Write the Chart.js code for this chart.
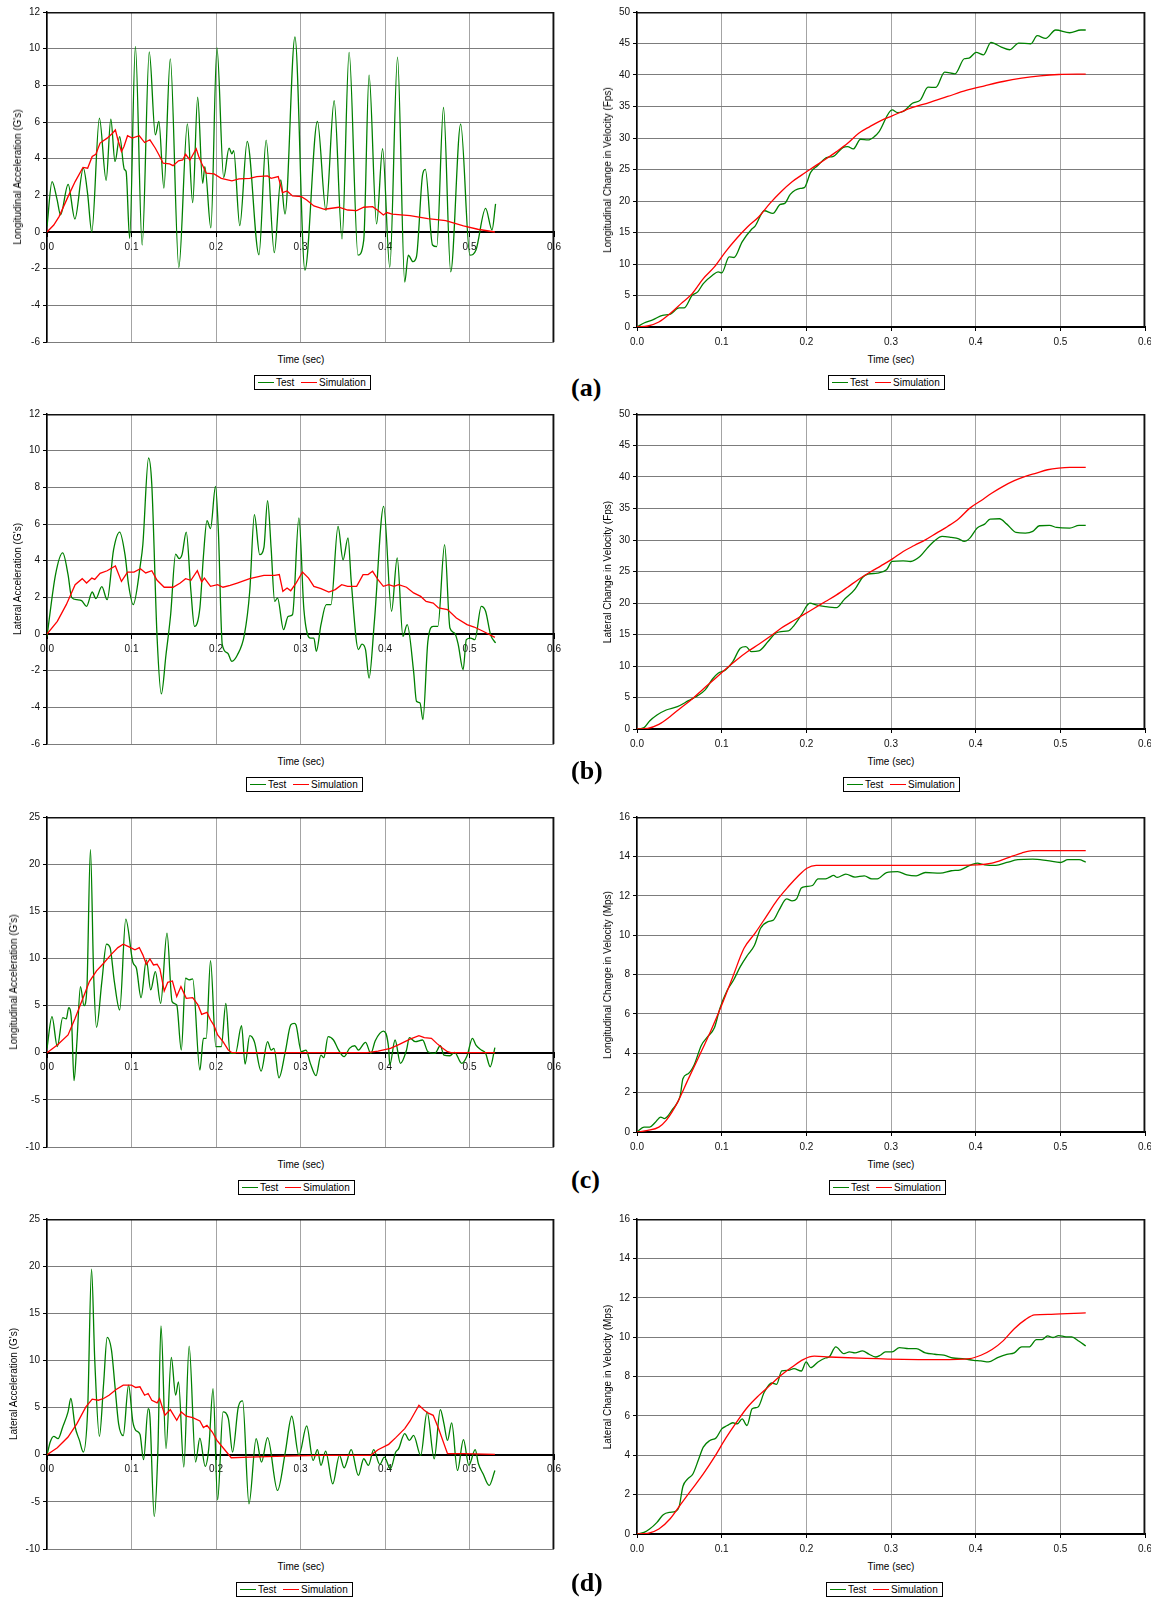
<!DOCTYPE html>
<html>
<head>
<meta charset="utf-8">
<script src="https://cdn.jsdelivr.net/npm/chart.js@4/dist/chart.umd.min.js"></script>
<style>
html,body{margin:0;padding:0;background:#fff;}
body{position:relative;width:1151px;height:1600px;overflow:hidden;font-family:'Liberation Sans',Arial,sans-serif;color:#000;}
canvas{position:absolute;}
.t{position:absolute;font-size:10px;line-height:12px;white-space:nowrap;}
.yt{transform:translate(-50%,-50%) rotate(-90deg);}
.xt{transform:translate(-50%,-50%);}
.lg{position:absolute;width:115px;height:13px;border:1px solid #000;background:#fff;}
.ln{position:absolute;top:6px;width:16px;height:0;border-top:1.4px solid;}
.lt{position:absolute;top:0;font-size:10px;line-height:13px;white-space:nowrap;}
.sub{position:absolute;font-family:'Liberation Serif','Times New Roman',serif;font-weight:bold;font-size:26px;line-height:28px;transform:translateY(-50%);}
</style>
</head>
<body>
<script>
// ---------- tick labels ----------
const timeTicks = [0, 0.1, 0.2, 0.3, 0.4, 0.5, 0.6];
const accTicksAB = [-6, -4, -2, 0, 2, 4, 6, 8, 10, 12];
const accTicksCD = [-10, -5, 0, 5, 10, 15, 20, 25];
const velTicksFps = [0, 5, 10, 15, 20, 25, 30, 35, 40, 45, 50];
const velTicksMps = [0, 2, 4, 6, 8, 10, 12, 14, 16];
const seriesNames = ['Test', 'Simulation'];
const panelLetters = ['(a)', '(b)', '(c)', '(d)'];

// ---------- (a) longitudinal acceleration, G's [time s, value] ----------
const aAccTest = [[0,0.3],[0.006,2.75],[0.012,1.75],[0.016,0.93],[0.025,2.6],[0.033,0.71],[0.043,3.48],[0.048,2.11],[0.053,0],[0.062,6.21],[0.070,2.82],[0.0755,6.16],[0.0805,3.84],[0.086,5.2],[0.0915,3.42],[0.0936,3.3],[0.0978,-0.35],[0.1046,10.13],[0.1126,-0.71],[0.121,9.82],[0.1282,5.3],[0.1324,6.03],[0.1383,2.39],[0.1459,9.44],[0.156,-1.93],[0.1661,5.9],[0.1724,1.6],[0.1783,7.36],[0.1842,2.66],[0.1868,3.57],[0.1939,0.22],[0.2011,10.04],[0.2091,2.97],[0.2154,4.57],[0.2188,4.26],[0.2209,4.44],[0.2281,0.35],[0.2369,4.94],[0.2508,-1.24],[0.2593,5.01],[0.269,-1.13],[0.2766,2.84],[0.2816,0.98],[0.2934,10.64],[0.3052,-2.08],[0.32,6.03],[0.3301,1.17],[0.3398,7.16],[0.3491,-0.38],[0.3575,9.8],[0.368,-1.26],[0.3748,-0.44],[0.3811,8.56],[0.39,0.44],[0.3971,4.54],[0.4056,-1.93],[0.4148,9.54],[0.4233,-2.73],[0.4275,-1.26],[0.433,-1.62],[0.4372,-1.35],[0.4444,3.11],[0.4477,3.42],[0.4562,-0.71],[0.4612,-0.8],[0.4692,6.79],[0.4777,-2.17],[0.4895,5.88],[0.5004,-1.26],[0.5076,-0.98],[0.519,1.29],[0.5266,0.11],[0.5308,1.53]];
const aAccSim = [[0,0],[0.008,0.38],[0.0143,0.84],[0.0249,1.93],[0.0333,2.75],[0.0426,3.52],[0.0481,3.48],[0.0535,4.12],[0.0578,4.24],[0.0628,4.85],[0.0712,5.12],[0.0776,5.39],[0.0809,5.57],[0.0839,5.03],[0.0881,4.39],[0.0911,4.66],[0.0953,5.25],[0.1008,5.12],[0.1092,5.25],[0.1155,4.88],[0.1218,5.03],[0.1282,4.57],[0.1324,4.21],[0.1374,3.75],[0.145,3.72],[0.1492,3.62],[0.1556,3.88],[0.1606,3.93],[0.164,4.24],[0.1691,3.93],[0.1766,4.54],[0.1796,4.12],[0.183,3.75],[0.1884,3.21],[0.1977,3.17],[0.2062,2.93],[0.2188,2.79],[0.2272,2.9],[0.2399,2.93],[0.2483,3.02],[0.261,3.06],[0.2652,2.93],[0.2736,3.02],[0.2787,2.15],[0.2841,2.24],[0.2905,1.97],[0.301,1.93],[0.3073,1.75],[0.3158,1.42],[0.3284,1.24],[0.3453,1.35],[0.3558,1.2],[0.3664,1.17],[0.3748,1.35],[0.3853,1.38],[0.3917,1.17],[0.398,0.93],[0.4022,1.06],[0.4085,0.97],[0.4296,0.89],[0.4507,0.73],[0.4718,0.62],[0.4928,0.33],[0.5097,0.15],[0.53,0]];
// ---------- (a) longitudinal change in velocity, Fps ----------
const aVelTest = [[0,0],[0.0083,0.64],[0.0192,1.17],[0.0302,1.86],[0.0389,2.01],[0.0498,3.02],[0.0555,3.02],[0.0652,5.04],[0.0717,5.57],[0.0783,6.89],[0.0892,8.22],[0.0958,8.75],[0.1001,8.59],[0.1089,11.13],[0.1146,11.03],[0.1242,13.52],[0.1351,15.48],[0.1395,16.01],[0.1504,18.45],[0.1605,18.03],[0.1692,19.46],[0.1745,19.62],[0.181,21.05],[0.1928,22.0],[0.1976,22.11],[0.2051,24.55],[0.2129,25.56],[0.2247,26.94],[0.2313,27.04],[0.2431,28.47],[0.2488,28.63],[0.2554,28.26],[0.2641,29.8],[0.2728,29.69],[0.2803,30.22],[0.286,31.02],[0.3013,34.46],[0.3078,34.04],[0.3144,34.2],[0.3253,35.52],[0.3349,36.06],[0.3437,38.07],[0.3529,38.02],[0.3634,40.46],[0.3756,40.19],[0.3865,42.58],[0.3922,42.68],[0.4005,43.58],[0.4093,43.21],[0.418,45.18],[0.4303,44.43],[0.4403,44.01],[0.4508,45.07],[0.4652,44.96],[0.4727,46.24],[0.4827,45.81],[0.4945,47.14],[0.5111,46.71],[0.5243,47.14],[0.53,47.14]];
const aVelSim = [[0,0],[0.0127,0.16],[0.0258,0.8],[0.0389,2.12],[0.052,3.71],[0.0652,5.3],[0.0783,7.69],[0.0914,9.54],[0.1045,11.93],[0.1176,14.05],[0.1307,15.91],[0.1439,17.5],[0.157,19.62],[0.1701,21.47],[0.1832,23.06],[0.1963,24.28],[0.2094,25.45],[0.2226,26.62],[0.2357,27.84],[0.2488,29.16],[0.2619,30.75],[0.275,31.81],[0.2881,32.77],[0.3013,33.51],[0.3231,34.73],[0.345,35.63],[0.3669,36.59],[0.3887,37.54],[0.4106,38.28],[0.4324,38.97],[0.4543,39.5],[0.4762,39.87],[0.498,40.08],[0.53,40.14]];

// ---------- (b) lateral acceleration, G's ----------
const bAccTest = [[0,-0.13],[0.0101,3.24],[0.0186,4.42],[0.0249,3.24],[0.0291,2.0],[0.0354,1.87],[0.0409,1.82],[0.0468,1.51],[0.0535,2.29],[0.0578,1.93],[0.0649,2.58],[0.0712,1.87],[0.0788,4.6],[0.086,5.56],[0.0923,4.33],[0.0965,2.69],[0.102,1.6],[0.1105,3.78],[0.1134,4.87],[0.1202,9.6],[0.124,8.15],[0.1303,-0.22],[0.1353,-3.27],[0.1408,-1.13],[0.1463,1.05],[0.1522,4.36],[0.1564,4.11],[0.1598,4.33],[0.1648,5.56],[0.1703,2.33],[0.1745,0.42],[0.1809,1.42],[0.1851,4.24],[0.1893,6.18],[0.1935,5.75],[0.1994,8.05],[0.2028,5.6],[0.2074,-0.58],[0.2137,-1.04],[0.2188,-1.49],[0.2251,-1.16],[0.2336,-0.04],[0.2399,2.33],[0.2454,6.51],[0.2517,4.33],[0.2567,4.73],[0.261,7.27],[0.2652,4.69],[0.2694,1.78],[0.2728,1.96],[0.2799,0.24],[0.2854,0.96],[0.2905,1.05],[0.2981,6.33],[0.304,1.33],[0.3116,-0.22],[0.3158,-0.22],[0.3187,-0.95],[0.3242,0.51],[0.3305,1.6],[0.336,1.6],[0.3444,5.87],[0.3503,4.05],[0.3562,5.24],[0.36,2.87],[0.3685,-0.85],[0.3727,-0.55],[0.3769,-0.85],[0.3811,-2.4],[0.3874,0.69],[0.3984,6.96],[0.4077,1.24],[0.4144,4.15],[0.4212,-0.13],[0.4262,0.51],[0.4338,-2.04],[0.4372,-3.67],[0.4414,-3.76],[0.4448,-4.67],[0.4507,-0.4],[0.457,0.42],[0.4625,0.42],[0.4705,4.87],[0.4768,0.33],[0.4823,0.05],[0.4865,-0.55],[0.4924,-1.95],[0.4962,-0.31],[0.5013,-0.22],[0.5063,-0.31],[0.5139,1.51],[0.519,1.24],[0.5249,-0.04],[0.5308,-0.49]];
const bAccSim = [[0,0],[0.0122,0.69],[0.0228,1.6],[0.0333,2.69],[0.0417,3.02],[0.0468,2.78],[0.0531,3.05],[0.0565,2.98],[0.0628,3.31],[0.0712,3.45],[0.0809,3.71],[0.0881,2.87],[0.0953,3.38],[0.1029,3.38],[0.1105,3.56],[0.1168,3.33],[0.124,3.45],[0.1303,2.93],[0.1387,2.55],[0.1492,2.55],[0.1577,2.78],[0.164,3.02],[0.1703,2.93],[0.1779,3.45],[0.183,2.84],[0.1863,3.05],[0.1935,2.6],[0.2019,2.69],[0.2083,2.55],[0.2167,2.65],[0.2251,2.78],[0.2399,3.02],[0.2567,3.2],[0.2694,3.2],[0.2749,3.24],[0.2791,2.33],[0.2841,2.51],[0.2884,2.36],[0.2947,2.78],[0.3023,3.38],[0.3095,3.05],[0.3158,2.6],[0.3242,2.47],[0.3335,2.29],[0.3411,2.42],[0.3487,2.69],[0.3558,2.6],[0.3664,2.6],[0.374,3.24],[0.3799,3.24],[0.3853,3.42],[0.3917,2.96],[0.398,2.6],[0.4043,2.69],[0.4106,2.6],[0.4161,2.69],[0.4254,2.55],[0.4338,2.24],[0.4422,2.05],[0.4486,1.78],[0.457,1.69],[0.4633,1.42],[0.4739,1.33],[0.4844,0.87],[0.497,0.51],[0.5055,0.38],[0.516,0.15],[0.53,-0.18]];
// ---------- (b) lateral change in velocity, Fps ----------
const bVelTest = [[0,0],[0.0083,0.21],[0.0149,1.27],[0.0236,2.22],[0.0345,3.02],[0.0477,3.55],[0.0608,4.5],[0.0717,5.3],[0.0805,6.2],[0.0892,7.94],[0.0958,8.85],[0.1045,9.38],[0.1132,10.7],[0.122,12.82],[0.1286,13.08],[0.1351,12.29],[0.1439,12.39],[0.1548,13.88],[0.1635,15.2],[0.1701,15.47],[0.1788,15.57],[0.1854,16.42],[0.1941,18.11],[0.2042,19.97],[0.2116,19.7],[0.2226,19.44],[0.2357,19.28],[0.2444,20.5],[0.2575,22.19],[0.2663,24.05],[0.2728,24.58],[0.2838,24.74],[0.2947,25.27],[0.3013,26.59],[0.3144,26.69],[0.3231,26.59],[0.3341,27.38],[0.3428,28.71],[0.3516,29.87],[0.3603,30.56],[0.3712,30.4],[0.38,30.19],[0.3865,29.77],[0.3931,30.3],[0.4018,31.89],[0.4106,32.52],[0.4171,33.32],[0.4281,33.37],[0.4368,32.52],[0.4477,31.2],[0.4587,31.09],[0.4674,31.36],[0.4753,32.26],[0.4871,32.31],[0.4958,31.99],[0.5111,31.89],[0.5221,32.31],[0.53,32.31]];
const bVelSim = [[0,0],[0.0127,0.11],[0.0258,0.74],[0.0389,1.96],[0.052,3.39],[0.0652,4.77],[0.0783,6.36],[0.0914,7.89],[0.1045,9.48],[0.1176,10.96],[0.1307,12.29],[0.1439,13.45],[0.157,14.67],[0.1701,16.0],[0.1832,17.06],[0.1963,18.11],[0.2094,19.17],[0.2226,20.23],[0.2357,21.29],[0.2488,22.51],[0.2619,23.78],[0.275,24.89],[0.2881,25.9],[0.3013,26.96],[0.3144,28.18],[0.3275,29.13],[0.3406,30.03],[0.3537,31.09],[0.3669,32.15],[0.38,33.37],[0.3931,35.06],[0.4062,36.23],[0.4193,37.45],[0.4324,38.51],[0.4456,39.41],[0.4587,40.1],[0.4718,40.62],[0.4849,41.15],[0.498,41.42],[0.5111,41.53],[0.53,41.53]];

// ---------- (c) longitudinal acceleration, G's ----------
const cAccTest = [[0,0.46],[0.0059,3.82],[0.0122,0.64],[0.0186,3.72],[0.0228,3.58],[0.0257,4.78],[0.0291,3.29],[0.032,-2.97],[0.0354,1.17],[0.0396,7.01],[0.0438,4.99],[0.0472,6.83],[0.0514,21.53],[0.0552,8.25],[0.0586,2.69],[0.0649,7.54],[0.0704,11.51],[0.0746,11.15],[0.0797,7.54],[0.086,4.53],[0.0932,14.16],[0.1016,9.6],[0.1058,8.96],[0.1113,5.84],[0.1176,9.84],[0.1227,6.66],[0.1282,8.6],[0.1345,5.24],[0.142,12.68],[0.148,5.42],[0.1535,5.06],[0.1589,0.28],[0.164,7.9],[0.1682,7.72],[0.1724,7.83],[0.1809,-1.84],[0.1851,1.52],[0.1884,1.52],[0.1935,9.77],[0.1998,0.64],[0.2062,0.64],[0.2116,5.24],[0.2167,-0.07],[0.223,-0.07],[0.2302,2.87],[0.2344,-1.2],[0.2399,1.81],[0.2454,1.17],[0.2534,-1.95],[0.261,1.17],[0.2652,0.28],[0.2686,0.46],[0.2745,-2.66],[0.282,0.11],[0.2884,2.94],[0.2926,3.12],[0.2947,2.94],[0.301,0.11],[0.3065,0.28],[0.3116,-1.13],[0.3183,-2.44],[0.3242,-0.25],[0.3276,-0.53],[0.3326,1.7],[0.339,1.35],[0.3444,0.39],[0.3516,-0.42],[0.3579,0.46],[0.3642,0.74],[0.3685,0.28],[0.3769,1.1],[0.3832,-0.07],[0.3883,1.24],[0.3938,2.05],[0.398,2.3],[0.4043,0.46],[0.4056,-1.31],[0.4119,1.35],[0.4182,-1.13],[0.4254,0.28],[0.4288,1.59],[0.4359,1.17],[0.4444,1.35],[0.4507,0.11],[0.4591,-0.07],[0.4654,0.74],[0.4697,-0.25],[0.4768,-0.32],[0.4823,0.04],[0.4907,-1.13],[0.4971,-0.32],[0.5034,1.52],[0.5076,0.81],[0.5139,0.28],[0.519,-0.07],[0.5245,-1.49],[0.53,0.53]];
const cAccSim = [[0,0],[0.0122,0.81],[0.0249,1.88],[0.0333,3.65],[0.0417,5.59],[0.0502,7.54],[0.0586,8.68],[0.067,9.49],[0.0755,10.38],[0.0839,11.15],[0.0902,11.51],[0.0965,11.26],[0.1041,10.91],[0.1092,11.15],[0.1134,10.38],[0.1176,9.38],[0.1218,9.95],[0.126,9.31],[0.1303,9.38],[0.1336,8.89],[0.1387,6.55],[0.1429,7.47],[0.1484,7.61],[0.1535,5.95],[0.1585,7.01],[0.1648,5.77],[0.1724,5.84],[0.1788,5.06],[0.183,4.07],[0.1893,4.28],[0.1935,3.47],[0.1977,2.87],[0.2019,1.88],[0.2083,1.17],[0.2146,0.28],[0.2188,0],[0.379,0],[0.3917,0.18],[0.4064,0.46],[0.4169,0.89],[0.4296,1.45],[0.4401,1.81],[0.4465,1.59],[0.4549,1.52],[0.4612,0.99],[0.4675,0.53],[0.4739,0.11],[0.4781,0],[0.53,0]];
// ---------- (c) longitudinal change in velocity, Mps ----------
const cVelTest = [[0,0],[0.0083,0.25],[0.0149,0.25],[0.0214,0.48],[0.028,0.76],[0.0324,0.68],[0.0354,0.76],[0.0411,1.1],[0.0477,1.49],[0.0512,1.87],[0.0542,2.71],[0.0608,2.97],[0.0673,3.39],[0.0761,4.41],[0.0835,4.84],[0.0914,5.29],[0.0979,6.28],[0.1067,7.21],[0.1141,7.72],[0.122,8.4],[0.1307,8.99],[0.1386,9.47],[0.146,10.35],[0.1548,10.69],[0.1613,10.77],[0.1679,11.28],[0.1767,11.84],[0.1832,11.74],[0.1885,11.84],[0.1941,12.39],[0.1998,12.47],[0.2073,12.52],[0.2138,12.86],[0.2226,12.86],[0.2269,12.93],[0.2322,13.03],[0.2365,12.93],[0.2466,13.1],[0.2575,12.95],[0.2685,13.01],[0.2772,12.86],[0.2838,12.86],[0.2947,13.18],[0.3078,13.23],[0.3188,13.06],[0.3297,13.01],[0.3406,13.18],[0.3581,13.15],[0.3712,13.27],[0.3822,13.32],[0.3931,13.54],[0.4018,13.66],[0.4106,13.57],[0.4237,13.54],[0.4368,13.69],[0.4499,13.83],[0.4674,13.86],[0.4849,13.78],[0.5002,13.69],[0.509,13.83],[0.5221,13.83],[0.53,13.71]];
const cVelSim = [[0,0],[0.0127,0.08],[0.0258,0.25],[0.0345,0.59],[0.0477,1.49],[0.0608,2.71],[0.0739,3.9],[0.087,5.12],[0.1001,6.45],[0.1132,7.89],[0.1264,9.33],[0.1395,10.1],[0.1526,10.94],[0.1657,11.79],[0.1788,12.47],[0.1898,12.98],[0.2007,13.4],[0.2116,13.54],[0.3581,13.54],[0.4018,13.57],[0.4193,13.66],[0.4368,13.91],[0.4543,14.17],[0.4674,14.29],[0.53,14.29]];

// ---------- (d) lateral acceleration, G's ----------
const dAccTest = [[0,-0.07],[0.0038,1.35],[0.008,1.95],[0.0131,1.7],[0.0186,2.94],[0.0249,4.54],[0.0282,5.96],[0.0333,2.94],[0.0384,1.52],[0.043,0.28],[0.0481,4.72],[0.0527,19.68],[0.0565,10.04],[0.062,1.95],[0.067,7.55],[0.0712,12.45],[0.0763,11.1],[0.0805,7.2],[0.0847,3.3],[0.0902,2.02],[0.0965,7.38],[0.1016,3.48],[0.105,2.59],[0.11,2.16],[0.1143,-0.53],[0.1197,4.89],[0.1218,4.01],[0.1269,-6.56],[0.1311,0.11],[0.1349,13.65],[0.1408,0.64],[0.1471,10.32],[0.1522,6.31],[0.1556,7.73],[0.1619,-1.31],[0.1682,11.52],[0.1758,-0.78],[0.1809,1.77],[0.1872,-1.24],[0.1914,0.64],[0.1965,7.02],[0.2019,-4.79],[0.2083,4.54],[0.2146,3.83],[0.2196,0.28],[0.2264,5.07],[0.2315,5.71],[0.239,-5.21],[0.2475,1.7],[0.2538,-0.78],[0.261,1.81],[0.2728,-3.79],[0.282,0.28],[0.2896,4.08],[0.2981,-0.07],[0.3073,3.05],[0.3149,-0.6],[0.32,0.53],[0.3242,-1.13],[0.3297,0.39],[0.3381,-3.09],[0.3461,-0.07],[0.3516,-1.38],[0.36,0.53],[0.3685,-2.2],[0.3748,-0.43],[0.3803,-1.13],[0.3866,0.53],[0.3938,-1.03],[0.3992,-0.25],[0.4064,-1.49],[0.4127,0.28],[0.4161,0.64],[0.4233,2.23],[0.4288,1.52],[0.4338,2.06],[0.4422,-0.07],[0.4498,4.54],[0.4582,-0.43],[0.4654,4.79],[0.4697,3.3],[0.4739,1.52],[0.4789,3.37],[0.4857,-1.67],[0.4928,1.6],[0.4992,-1.13],[0.5067,0.53],[0.5105,-0.96],[0.516,-2.02],[0.5232,-3.26],[0.53,-1.67]];
const dAccSim = [[0,0],[0.0122,0.74],[0.0249,1.88],[0.0354,3.3],[0.046,5.07],[0.0535,5.89],[0.0607,5.78],[0.067,5.96],[0.0734,6.31],[0.0818,6.91],[0.0902,7.38],[0.1,7.38],[0.105,7.13],[0.11,7.2],[0.1155,6.31],[0.1197,6.49],[0.124,5.78],[0.1303,5.5],[0.1332,5.96],[0.1395,4.18],[0.1459,4.79],[0.1535,3.65],[0.1589,4.54],[0.1648,4.08],[0.1724,3.94],[0.1809,3.58],[0.1851,2.87],[0.1893,3.12],[0.1956,2.41],[0.2011,1.52],[0.2083,0.74],[0.218,-0.32],[0.2399,-0.25],[0.282,-0.14],[0.3242,-0.07],[0.3832,-0.07],[0.3917,0.53],[0.4043,1.1],[0.4127,1.81],[0.4233,2.77],[0.4296,3.58],[0.4401,5.25],[0.4465,4.72],[0.4507,4.43],[0.457,4.18],[0.4633,2.77],[0.4739,0.11],[0.4928,0.11],[0.53,0.04]];
// ---------- (d) lateral change in velocity, Mps ----------
const dVelTest = [[0,0],[0.0083,0.08],[0.0149,0.25],[0.0236,0.59],[0.031,0.98],[0.0389,1.1],[0.0455,1.15],[0.0498,1.39],[0.0542,2.41],[0.0599,2.8],[0.066,3.05],[0.073,3.82],[0.0783,4.41],[0.0861,4.75],[0.0936,4.89],[0.1001,5.34],[0.1067,5.51],[0.1132,5.65],[0.1185,5.6],[0.1242,5.85],[0.1299,5.51],[0.136,6.36],[0.143,6.45],[0.1504,7.21],[0.1592,7.67],[0.1648,7.6],[0.171,8.28],[0.1788,8.31],[0.1854,8.4],[0.1941,8.28],[0.1998,8.74],[0.2051,8.45],[0.2138,8.74],[0.2226,8.94],[0.2269,8.99],[0.2348,9.5],[0.2444,9.16],[0.251,9.25],[0.2575,9.2],[0.2663,9.3],[0.2742,9.13],[0.2816,8.99],[0.2873,9.08],[0.2934,9.25],[0.3013,9.25],[0.31,9.47],[0.3209,9.42],[0.3297,9.42],[0.3406,9.2],[0.3516,9.13],[0.3625,9.08],[0.3734,8.94],[0.3843,8.91],[0.3975,8.82],[0.4062,8.79],[0.415,8.74],[0.4259,8.96],[0.4368,9.13],[0.4456,9.2],[0.4543,9.5],[0.463,9.5],[0.4718,9.87],[0.4784,9.87],[0.4849,10.06],[0.4915,9.98],[0.498,10.08],[0.5068,10.01],[0.5134,10.01],[0.5221,9.79],[0.53,9.55]];
const dVelSim = [[0,0],[0.0127,0.03],[0.0258,0.25],[0.0389,0.76],[0.052,1.53],[0.0652,2.29],[0.0783,3.05],[0.0914,3.9],[0.1045,4.84],[0.1176,5.68],[0.1307,6.45],[0.1439,7.04],[0.157,7.55],[0.1701,8.06],[0.1832,8.48],[0.1963,8.86],[0.2094,9.03],[0.2269,8.99],[0.2707,8.92],[0.3144,8.87],[0.3581,8.86],[0.3931,8.91],[0.4062,9.08],[0.4193,9.37],[0.4324,9.81],[0.4456,10.43],[0.4587,10.89],[0.4696,11.13],[0.4893,11.16],[0.53,11.23]];

// ---------- panel set-up ----------
Chart.defaults.font.family = "'Liberation Sans', Arial, sans-serif";
Chart.defaults.font.size = 10;
Chart.defaults.color = '#000';

const rowTops = [12, 414, 817, 1219];
const letterY = [388, 771, 1180, 1583];

const panels = [
  {side:'L', row:0, test:aAccTest, sim:aAccSim, ticks:accTicksAB, title:"Longitudinal Acceleration (G's)", titleX:18, legendX:254},
  {side:'R', row:0, test:aVelTest, sim:aVelSim, ticks:velTicksFps, title:"Longitudinal Change in Velocity (Fps)", titleX:608, legendX:828},
  {side:'L', row:1, test:bAccTest, sim:bAccSim, ticks:accTicksAB, title:"Lateral Acceleration (G's)", titleX:18, legendX:246},
  {side:'R', row:1, test:bVelTest, sim:bVelSim, ticks:velTicksFps, title:"Lateral Change in Velocity (Fps)", titleX:608, legendX:843},
  {side:'L', row:2, test:cAccTest, sim:cAccSim, ticks:accTicksCD, title:"Longitudinal Acceleration (G's)", titleX:14, legendX:238},
  {side:'R', row:2, test:cVelTest, sim:cVelSim, ticks:velTicksMps, title:"Longitudinal Change in Velocity (Mps)", titleX:608, legendX:829},
  {side:'L', row:3, test:dAccTest, sim:dAccSim, ticks:accTicksCD, title:"Lateral Acceleration (G's)", titleX:14, legendX:236},
  {side:'R', row:3, test:dVelTest, sim:dVelSim, ticks:velTicksMps, title:"Lateral Change in Velocity (Mps)", titleX:608, legendX:826}
];

const framePlugin = {
  id: 'frame',
  beforeDatasetsDraw(chart) {
    const a = chart.chartArea, c = chart.ctx;
    const l = Math.round(a.left), r = Math.round(a.right) - 0.75;
    const t = Math.round(a.top) + 0.75;
    const b = Math.round(a.bottom);
    c.save();
    c.strokeStyle = '#111';
    c.lineWidth = 1.5;
    c.beginPath();
    c.moveTo(l, t); c.lineTo(r, t); c.lineTo(r, b);
    c.stroke();
    c.restore();
  }
};

function toXY(arr) { return arr.map(p => ({x: p[0], y: p[1]})); }

function addText(cls, txt, x, y) {
  const d = document.createElement('div');
  d.className = 't ' + cls;
  d.textContent = txt;
  d.style.left = x + 'px';
  d.style.top = y + 'px';
  document.body.appendChild(d);
}

function addLegend(x, y) {
  const d = document.createElement('div');
  d.className = 'lg';
  d.style.left = x + 'px';
  d.style.top = y + 'px';
  const parts = [
    ['ln', '', 3, '#008000'], ['lt', seriesNames[0], 21, null],
    ['ln', '', 46, '#ff0000'], ['lt', seriesNames[1], 64, null]
  ];
  parts.forEach(p => {
    const s = document.createElement('span');
    s.className = p[0];
    s.textContent = p[1];
    s.style.left = p[2] + 'px';
    if (p[3]) s.style.borderTopColor = p[3];
    d.appendChild(s);
  });
  document.body.appendChild(d);
}

panels.forEach(p => {
  const isL = p.side === 'L';
  const top = rowTops[p.row];
  const plotH = isL ? 330 : 315;
  const cw = isL ? 566 : 600, ch = 350;
  const cl = isL ? 0 : 570, ct = top - 10;
  const cv = document.createElement('canvas');
  cv.width = cw; cv.height = ch;
  cv.style.left = cl + 'px'; cv.style.top = ct + 'px';
  cv.style.width = cw + 'px'; cv.style.height = ch + 'px';
  document.body.appendChild(cv);

  const yMin = p.ticks[0], yMax = p.ticks[p.ticks.length - 1];
  new Chart(cv, {
    type: 'line',
    data: {
      datasets: [
        {label: seriesNames[0], data: toXY(p.test), borderColor: '#008000', backgroundColor: '#008000',
         borderWidth: 1.3, pointRadius: 0, cubicInterpolationMode: 'monotone', fill: false, order: 1},
        {label: seriesNames[1], data: toXY(p.sim), borderColor: '#ff0000', backgroundColor: '#ff0000',
         borderWidth: 1.3, pointRadius: 0, tension: 0,
         cubicInterpolationMode: isL ? 'default' : 'monotone', fill: false, order: 0}
      ]
    },
    options: {
      responsive: false,
      animation: false,
      events: [],
      layout: {padding: isL ? {left: 0, top: 10, right: 11, bottom: 10} : {left: 0, top: 10, right: 25, bottom: 3}},
      plugins: {legend: {display: false}, tooltip: {enabled: false}},
      scales: {
        x: {
          type: 'linear', axis: 'x', min: 0, max: 0.6,
          position: isL ? {y: 0} : 'bottom',
          afterBuildTicks: s => { s.ticks = timeTicks.map(v => ({value: v})); },
          afterFit: s => { s.height = isL ? 0 : 22; },
          ticks: {autoSkip: false, maxRotation: 0, minRotation: 0, padding: 5, color: '#111',
                  callback: v => Number(v).toFixed(1)},
          grid: {color: '#a4a4a4', lineWidth: 1, tickLength: 4, tickColor: '#000'},
          border: {display: true, color: '#000', width: 2}
        },
        y: {
          type: 'linear', axis: 'y', min: yMin, max: yMax, position: 'left',
          afterBuildTicks: s => { s.ticks = p.ticks.map(v => ({value: v})); },
          afterFit: s => { s.width = isL ? 47 : 67; },
          ticks: {autoSkip: false, padding: 3, color: '#111', callback: v => String(v)},
          grid: {color: '#7c7c7c', lineWidth: 1, tickLength: 4, tickColor: '#000'},
          border: {display: true, color: '#000', width: 1.5}
        }
      }
    },
    plugins: [framePlugin]
  });

  const plotL = isL ? 47 : 637, plotR = isL ? 555 : 1145;
  addText('yt', p.title, p.titleX, top + plotH / 2);
  addText('xt', 'Time (sec)', (plotL + plotR) / 2, top + 347.5);
  addLegend(p.legendX, top + 363);
  if (!isL) {
    const d = document.createElement('div');
    d.className = 'sub';
    d.textContent = panelLetters[p.row];
    d.style.left = '571px';
    d.style.top = letterY[p.row] + 'px';
    document.body.appendChild(d);
  }
});
</script>
</body>
</html>
